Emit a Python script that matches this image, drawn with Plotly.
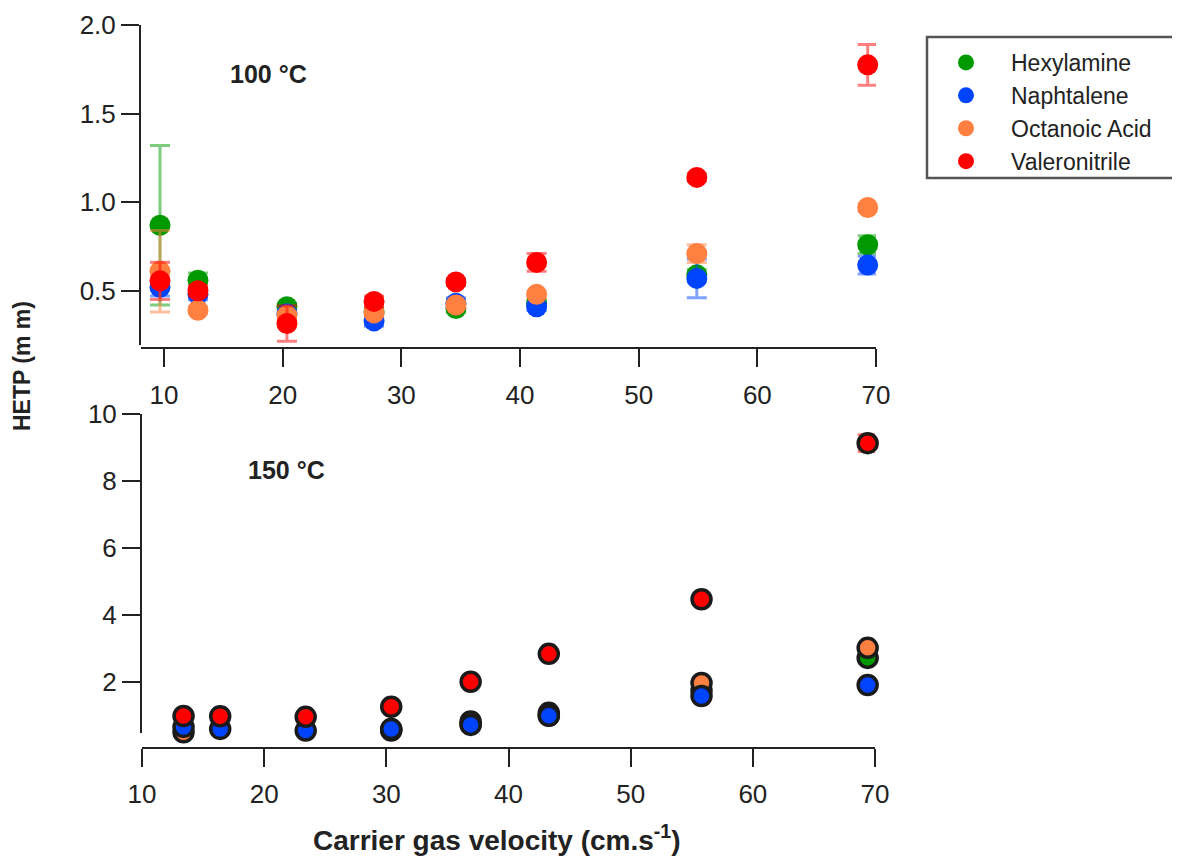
import plotly.graph_objects as go

W, H = 1180, 856
OFF = 8  # browser body margin offset (page px -> figure px)

# ---------------- data ----------------
compounds = ["Hexylamine", "Naphtalene", "Octanoic Acid", "Valeronitrile"]
colors = ["#009a00", "#0044ff", "#ff8040", "#ff0000"]
err_colors = ["rgba(0,154,0,0.5)", "rgba(0,68,255,0.5)", "rgba(255,128,64,0.5)", "rgba(255,0,0,0.5)"]

# 100 °C panel
x_100 = [9.66, 12.86, 20.36, 27.7, 34.6, 41.4, 54.9, 69.3]
hex_100 = [0.87, 0.56, 0.41, 0.38, 0.40, 0.43, 0.59, 0.76]
hex_100_err = [0.45, 0.04, 0.02, 0.02, 0.02, 0.02, 0.03, 0.05]
naph_100 = [0.52, 0.48, 0.37, 0.33, 0.43, 0.41, 0.57, 0.645]
naph_100_err = [0.05, 0.03, 0.02, 0.03, 0.03, 0.02, 0.11, 0.05]
oct_100 = [0.61, 0.39, 0.36, 0.375, 0.42, 0.48, 0.71, 0.97]
oct_100_err = [0.23, 0.02, 0.02, 0.02, 0.02, 0.02, 0.05, 0.02]
val_100 = [0.556, 0.50, 0.315, 0.44, 0.55, 0.66, 1.14, 1.775]
val_100_err = [0.105, 0.03, 0.10, 0.03, 0.02, 0.05, 0.02, 0.115]

# 150 °C panel
x_150 = [13.4, 16.4, 23.4, 30.4, 36.9, 43.3, 55.8, 69.4]
hex_150 = [0.45, 0.42, 0.38, 0.55, 0.75, 1.00, 1.75, 2.72]
naph_150 = [0.66, 0.60, 0.55, 0.60, 0.72, 0.99, 1.58, 1.91]
oct_150 = [0.50, 0.47, 0.42, 0.58, 0.82, 1.08, 1.97, 3.02]
val_150 = [0.985, 0.98, 0.96, 1.26, 2.01, 2.84, 4.47, 9.13]
val_150_err = [0.05, 0.05, 0.05, 0.08, 0.10, 0.10, 0.10, 0.25]

x_ticks = [10, 20, 30, 40, 50, 60, 70]
y_ticks_100 = [0.5, 1.0, 1.5, 2.0]
y_ticks_150 = [2, 4, 6, 8, 10]

FONT = "Arial, Liberation Sans, sans-serif"
INK = "#222222"


def fx(p):
    return (p - OFF) / W


def fy(p):
    return 1 - (p - OFF) / H


fig = go.Figure()

vals_100 = [hex_100, naph_100, oct_100, val_100]
errs_100 = [hex_100_err, naph_100_err, oct_100_err, val_100_err]
for name, c, ec, y, e in zip(compounds, colors, err_colors, vals_100, errs_100):
    fig.add_trace(go.Scatter(
        x=x_100, y=y, mode="markers", name=name, showlegend=True,
        marker=dict(color=c, size=21, line=dict(width=0)),
        error_y=dict(type="data", array=e, color=ec, thickness=3, width=10),
        xaxis="x", yaxis="y", cliponaxis=False,
    ))

vals_150 = {"Hexylamine": hex_150, "Octanoic Acid": oct_150,
            "Naphtalene": naph_150, "Valeronitrile": val_150}
for name in ["Hexylamine", "Octanoic Acid", "Naphtalene", "Valeronitrile"]:
    i = compounds.index(name)
    kw = {}
    if name == "Valeronitrile":
        kw["error_y"] = dict(type="data", array=val_150_err, color=err_colors[i], thickness=3, width=10)
    fig.add_trace(go.Scatter(
        x=x_150, y=vals_150[name], mode="markers", name=name, showlegend=False,
        marker=dict(color=colors[i], size=19, line=dict(width=3.5, color="#1a1a1a")),
        xaxis="x2", yaxis="y2", cliponaxis=False, **kw,
    ))

axis_common = dict(showline=True, linecolor=INK, linewidth=2, ticks="outside", ticklen=18,
                   tickwidth=2, tickcolor=INK, showgrid=False, zeroline=False, automargin=False,
                   tickfont=dict(family=FONT, size=26, color=INK))

fig.update_layout(
    width=W, height=H, autosize=False,
    margin=dict(l=0, r=0, t=0, b=0, pad=0, autoexpand=False),
    paper_bgcolor="white", plot_bgcolor="white",
    font=dict(family=FONT, color=INK),
    xaxis=dict(domain=[fx(141), fx(876)], range=[8.06, 70], anchor="free",
               position=fy(348), tickvals=x_ticks, ticklabelstandoff=6, **axis_common),
    yaxis=dict(domain=[fy(345), fy(25)], range=[0.194, 2.0], anchor="x",
               tickvals=y_ticks_100, tickformat=".1f", **axis_common),
    xaxis2=dict(domain=[fx(142), fx(875)], range=[10, 70], anchor="free",
                position=fy(748), tickvals=x_ticks, ticklabelstandoff=5, **axis_common),
    yaxis2=dict(domain=[fy(733), fy(414)], range=[0.478, 10], anchor="x2",
                tickvals=y_ticks_150, **axis_common),
    legend=dict(x=fx(921), y=fy(41), xanchor="left", yanchor="top",
                bgcolor="rgba(0,0,0,0)", borderwidth=0, itemwidth=80,
                font=dict(family=FONT, size=23, color=INK)),
    shapes=[dict(type="rect", xref="paper", yref="paper",
                 x0=fx(927), x1=fx(1215), y0=fy(178), y1=fy(37),
                 line=dict(color="#555555", width=2.5), fillcolor="rgba(0,0,0,0)")],
    annotations=[
        dict(text="<b>100 °C</b>", x=fx(268), y=fy(74), xref="paper", yref="paper",
             showarrow=False, xanchor="center", yanchor="middle",
             font=dict(family=FONT, size=25, color=INK)),
        dict(text="<b>150 °C</b>", x=fx(286), y=fy(470), xref="paper", yref="paper",
             showarrow=False, xanchor="center", yanchor="middle",
             font=dict(family=FONT, size=25, color=INK)),
        dict(text="<b>HETP (m m)</b>", x=fx(22), y=fy(366), xref="paper", yref="paper",
             showarrow=False, textangle=-90, xanchor="center", yanchor="middle",
             font=dict(family=FONT, size=23, color=INK)),
        dict(text="<b>Carrier gas velocity (cm.s<sup>-1</sup>)</b>", x=fx(497), y=fy(838),
             xref="paper", yref="paper", showarrow=False, xanchor="center", yanchor="middle",
             font=dict(family=FONT, size=28, color=INK)),
    ],
)

fig.write_html("out.html")
